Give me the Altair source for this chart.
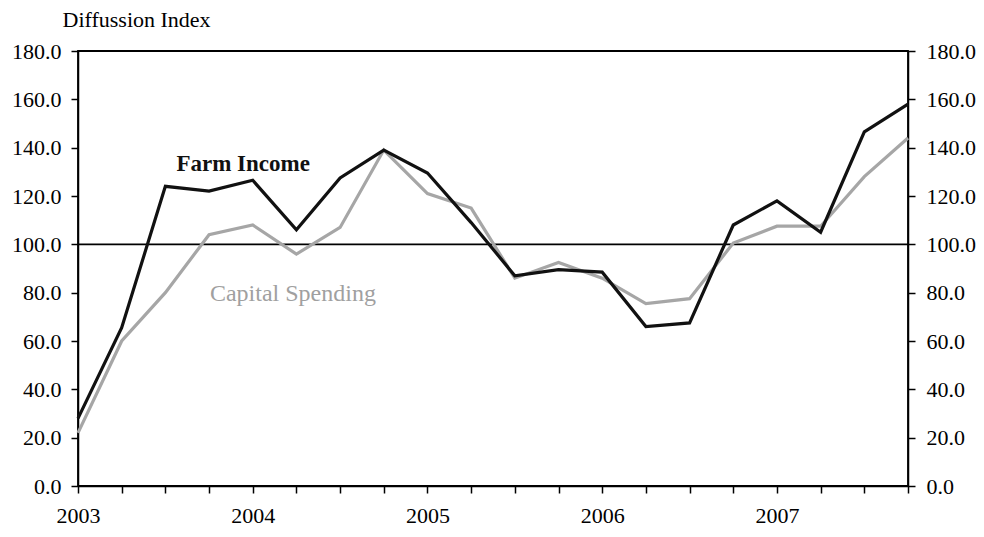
import altair as alt
import pandas as pd

# Quarterly observations, 2003 Q1 .. 2007 Q4
years = ["2003", "2004", "2005", "2006", "2007"]
farm_income = [28, 65.5, 124, 122, 126.5, 106, 127.5, 139, 129.5, 109,
               87, 89.5, 88.5, 66, 67.5, 108, 118, 105, 146.5, 158]
capital_spending = [22, 60, 80, 104, 108, 96, 107, 139, 121, 115,
                    86, 92.5, 86, 75.5, 77.5, 100.5, 107.5, 107.5, 128, 144]
y_ticks = [0, 20, 40, 60, 80, 100, 120, 140, 160, 180]
reference_level = [100]

# annotation anchors (quarter index, index value)
annot_text = ["Farm Income", "Capital Spending"]
annot_q = [3.78, 4.92]
annot_v = [130.5, 76.5]

n = len(farm_income)
df = pd.DataFrame({
    "q": list(range(n)),
    "farm": farm_income,
    "capex": capital_spending,
})
ref_df = pd.DataFrame({"v": reference_level})
ann_df = pd.DataFrame({"text": annot_text, "q": annot_q, "v": annot_v})

FONT = "Liberation Serif"
yscale = alt.Scale(domain=[0, 180], nice=False, zero=True)
xscale = alt.Scale(domain=[0, n - 1], nice=False, zero=False)

years_literal = "[" + ",".join("'" + y + "'" for y in years) + "]"
x_axis = alt.Axis(
    values=list(range(n)),
    labelExpr="datum.value % 4 === 0 ? " + years_literal + "[datum.value / 4] : ''",
    tickSize=7, tickWidth=1.5, tickColor="black",
    domainColor="black", domainWidth=1.5,
    labelPadding=12, labelFontSize=22, labelColor="black", labelFont=FONT,
    labelAngle=0, labelFlush=False, labelOverlap=False,
    grid=False, title=None,
)

left_axis = alt.Axis(
    orient="left", values=y_ticks, format=".1f",
    tickSize=7, tickWidth=1.5, tickColor="black",
    domainColor="black", domainWidth=1.5,
    labelPadding=10, labelFontSize=22, labelColor="black", labelFont=FONT,
    grid=False,
    title="Diffussion Index", titleAngle=0, titleX=-16, titleY=-25,
    titleAlign="left", titleBaseline="alphabetic", titleFontSize=22,
    titleFontWeight="normal", titleColor="black", titleFont=FONT,
)
right_axis = alt.Axis(
    orient="right", values=y_ticks, format=".1f",
    tickSize=7, tickWidth=1.5, tickColor="black",
    domainColor="black", domainWidth=1.5,
    labelPadding=11, labelFontSize=22, labelColor="black", labelFont=FONT,
    grid=False, title=None,
)

x_enc = alt.X("q:Q", scale=xscale, axis=x_axis)

ref_rule = alt.Chart(ref_df).mark_rule(color="black", strokeWidth=1.6).encode(
    y=alt.Y("v:Q", scale=yscale, axis=None)
)

capex_line = alt.Chart(df).mark_line(color="#a6a6a6", strokeWidth=3.2).encode(
    x=x_enc,
    y=alt.Y("capex:Q", scale=yscale, axis=right_axis),
)

farm_line = alt.Chart(df).mark_line(color="#111111", strokeWidth=3.2).encode(
    x=x_enc,
    y=alt.Y("farm:Q", scale=yscale, axis=left_axis),
)

farm_label = alt.Chart(ann_df).transform_filter(
    alt.datum.text == annot_text[0]
).mark_text(font=FONT, fontSize=23, fontWeight="bold", color="#111111",
            align="center", baseline="alphabetic").encode(
    x=x_enc,
    y=alt.Y("v:Q", scale=yscale, axis=None),
    text="text:N",
)

capex_label = alt.Chart(ann_df).transform_filter(
    alt.datum.text == annot_text[1]
).mark_text(font=FONT, fontSize=24, color="#a0a0a0",
            align="center", baseline="alphabetic").encode(
    x=x_enc,
    y=alt.Y("v:Q", scale=yscale, axis=None),
    text="text:N",
)

chart = alt.layer(
    ref_rule, capex_line, farm_line, farm_label, capex_label
).resolve_scale(y="independent").properties(
    width=830, height=435,
    autosize="none",
    padding={"left": 70, "top": 43, "right": 68, "bottom": 43},
    background="white",
).configure(
    font=FONT
).configure_view(
    stroke="black", strokeWidth=1.8
)

chart.save("out.html", embed_options={"renderer": "svg", "actions": False})
